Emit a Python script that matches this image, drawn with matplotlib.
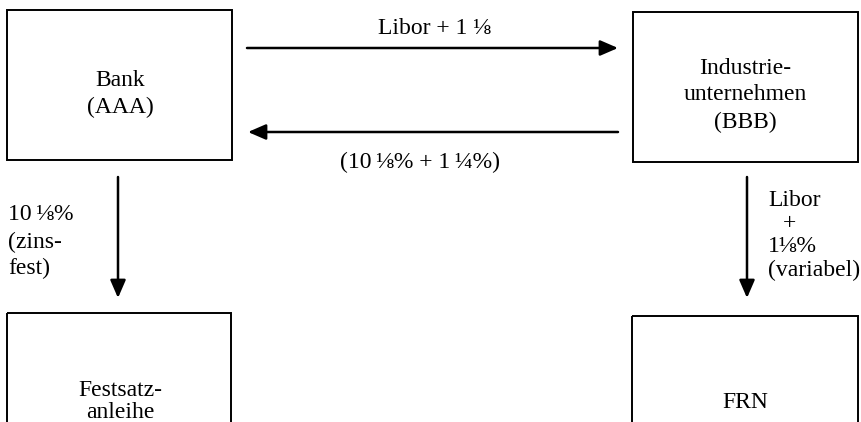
import matplotlib
matplotlib.use("Agg")
import matplotlib.pyplot as plt
from matplotlib.patches import Rectangle

plt.rcParams["font.family"] = ["Liberation Serif", "DejaVu Serif"]

# box contents, one entry per line
bank_lines = ["Bank", "(AAA)"]
industry_lines = ["Industrie-", "unternehmen", "(BBB)"]
bond_lines = ["Festsatz-", "anleihe"]
frn_lines = ["FRN"]
# flow labels
swap_top_label = "Libor + 1 \u215b"
swap_bottom_label = "(10\u2009\u215b% + 1\u2009\u00bc%)"
left_flow_lines = ["10\u2009\u215b%", "(zins-", "fest)"]
right_flow_lines = ["Libor", "+", "1\u215b%", "(variabel)"]

W, H = 862, 422
fig = plt.figure(figsize=(W / 100, H / 100), dpi=100)
ax = fig.add_axes([0, 0, 1, 1])
ax.set_xlim(0, W)
ax.set_ylim(H, 0)
ax.axis("off")

FS = 17
LW_BOX = 1.4
LW_ARROW = 1.8
DY = 2  # small downward nudge for all text

# boxes: (x0, y0, x1, y1) in pixels
boxes = [(7, 10, 232, 160), (633, 12, 858, 162), (7, 313, 231, 440), (632, 316, 858, 440)]
for (x0, y0, x1, y1) in boxes:
    ax.add_patch(Rectangle((x0, y0), x1 - x0, y1 - y0, fill=False, ec="black", lw=LW_BOX))


def block(lines, x, ys, ha="center"):
    for s, y in zip(lines, ys):
        ax.text(x, y + DY, s, ha=ha, va="center", fontsize=FS)


block(bank_lines, 120, [79, 105])
block(industry_lines, 745, [67, 93, 120])
block(bond_lines, 120, [388, 411])
block(frn_lines, 745, [400])

arrow = dict(arrowstyle="-|>,head_length=0.6,head_width=0.26", mutation_scale=18,
             lw=LW_ARROW, color="black", shrinkA=0, shrinkB=0)


def draw_arrow(start, end):
    ax.annotate("", xy=end, xytext=start, arrowprops=arrow)


draw_arrow((247, 48), (618, 48))
draw_arrow((618, 132), (248, 132))
draw_arrow((118, 177), (118, 298))
draw_arrow((747, 177), (747, 298))

block([swap_top_label], 434, [27])
block([swap_bottom_label], 420, [160])

block(left_flow_lines, 8, [213, 240, 266], ha="left")
block(right_flow_lines[:1], 768, [199], ha="left")
block(right_flow_lines[1:2], 790, [222])
block(right_flow_lines[2:], 768, [245, 268], ha="left")

fig.savefig("out.png", dpi=100, facecolor="white")
